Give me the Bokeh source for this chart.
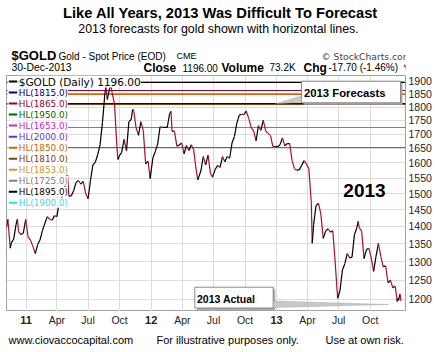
import pandas as pd
from bokeh.plotting import figure
from bokeh.layouts import column
from bokeh.models import (Range1d, FixedTicker, BasicTickFormatter, Label,
                          BoxAnnotation, PolyAnnotation)
from bokeh.embed import file_html
from bokeh.resources import INLINE

# ---------------- data ----------------
dates = [
    "2010-11-05", "2010-11-09", "2010-11-16", "2010-11-19", "2010-11-26", "2010-12-03", "2010-12-07",
    "2010-12-10", "2010-12-17", "2010-12-24", "2010-12-31",
    "2011-01-07", "2011-01-14", "2011-01-21", "2011-01-28", "2011-02-04", "2011-02-11", "2011-02-18",
    "2011-02-25", "2011-03-04", "2011-03-11", "2011-03-18", "2011-03-25", "2011-04-01", "2011-04-08",
    "2011-04-15", "2011-04-22", "2011-04-29", "2011-05-02", "2011-05-06", "2011-05-13", "2011-05-20",
    "2011-05-27", "2011-06-03", "2011-06-10", "2011-06-17", "2011-06-24", "2011-07-01", "2011-07-08",
    "2011-07-15", "2011-07-22", "2011-07-29", "2011-08-05", "2011-08-12", "2011-08-19", "2011-08-22",
    "2011-08-26", "2011-09-02", "2011-09-05", "2011-09-09", "2011-09-16", "2011-09-23", "2011-09-26",
    "2011-09-30", "2011-10-07", "2011-10-14", "2011-10-21", "2011-10-28", "2011-11-04", "2011-11-08",
    "2011-11-11", "2011-11-18", "2011-11-25", "2011-12-02", "2011-12-09", "2011-12-16", "2011-12-23",
    "2011-12-29",
    "2012-01-06", "2012-01-13", "2012-01-20", "2012-01-27", "2012-02-03", "2012-02-10", "2012-02-17",
    "2012-02-24", "2012-02-28", "2012-03-02", "2012-03-09", "2012-03-16", "2012-03-23", "2012-03-30",
    "2012-04-06", "2012-04-13", "2012-04-20", "2012-04-27", "2012-05-04", "2012-05-11", "2012-05-16",
    "2012-05-25", "2012-06-01", "2012-06-08", "2012-06-15", "2012-06-22", "2012-06-28", "2012-07-06",
    "2012-07-13", "2012-07-20", "2012-07-27", "2012-08-03", "2012-08-10", "2012-08-17", "2012-08-24",
    "2012-08-31", "2012-09-07", "2012-09-14", "2012-09-21", "2012-09-28", "2012-10-04", "2012-10-12",
    "2012-10-19", "2012-10-26", "2012-11-02", "2012-11-09", "2012-11-16", "2012-11-23", "2012-11-30",
    "2012-12-07", "2012-12-14", "2012-12-21", "2012-12-28",
    "2013-01-04", "2013-01-11", "2013-01-18", "2013-01-25", "2013-02-01", "2013-02-08", "2013-02-15",
    "2013-02-22", "2013-03-01", "2013-03-08", "2013-03-15", "2013-03-22", "2013-03-29", "2013-04-05",
    "2013-04-12", "2013-04-15", "2013-04-19", "2013-04-26", "2013-05-03", "2013-05-10", "2013-05-17",
    "2013-05-24", "2013-05-31", "2013-06-07", "2013-06-14", "2013-06-21", "2013-06-28", "2013-07-05",
    "2013-07-12", "2013-07-19", "2013-07-26", "2013-08-02", "2013-08-09", "2013-08-16", "2013-08-23",
    "2013-08-27", "2013-08-30", "2013-09-06", "2013-09-13", "2013-09-20", "2013-09-27", "2013-10-04",
    "2013-10-11", "2013-10-18", "2013-10-25", "2013-11-01", "2013-11-08", "2013-11-15", "2013-11-22",
    "2013-11-29", "2013-12-06", "2013-12-13", "2013-12-19", "2013-12-20", "2013-12-23", "2013-12-26",
    "2013-12-27", "2013-12-30",
]
closes = [
    1397, 1421, 1337, 1352, 1363, 1406, 1422,
    1385, 1376, 1380, 1421,
    1369, 1360, 1342, 1322, 1348, 1361, 1388,
    1409, 1429, 1421, 1418, 1432, 1429, 1474,
    1486, 1504, 1556, 1560, 1492, 1493, 1510,
    1536, 1542, 1530, 1539, 1500, 1484, 1542,
    1594, 1602, 1628, 1663, 1743, 1852, 1880,
    1829, 1873, 1890, 1856, 1812, 1658, 1612,
    1624, 1636, 1682, 1642, 1745, 1755, 1791,
    1788, 1724, 1696, 1746, 1713, 1597, 1606,
    1548,
    1617, 1639, 1665, 1727, 1725, 1725, 1725,
    1776, 1784, 1711, 1711, 1658, 1662, 1669,
    1631, 1660, 1643, 1663, 1645, 1580, 1544,
    1573, 1622, 1594, 1627, 1566, 1553, 1579,
    1592, 1585, 1622, 1604, 1622, 1616, 1670,
    1692, 1740, 1770, 1773, 1772, 1785, 1757,
    1724, 1712, 1676, 1731, 1714, 1751, 1712,
    1703, 1696, 1657, 1656,
    1656, 1663, 1687, 1659, 1667, 1667, 1609,
    1581, 1576, 1577, 1592, 1608, 1597, 1581,
    1476, 1351, 1406, 1462, 1470, 1437, 1365,
    1386, 1393, 1383, 1387, 1296, 1203, 1223,
    1277, 1294, 1322, 1310, 1312, 1375, 1396,
    1415, 1396, 1386, 1308, 1333, 1337, 1310,
    1273, 1314, 1351, 1314, 1286, 1288, 1243,
    1250, 1230, 1234, 1195, 1203, 1198, 1212,
    1214, 1196,
]

hl_levels = [1815.0, 1865.0, 1950.0, 1653.0, 2000.0, 1850.0, 1810.0, 1853.0, 1725.0, 1895.0, 1900.0]
hl_colors = ["#000080", "#990033", "#006600", "#cc22cc", "#6633cc", "#cc6600",
             "#804020", "#cc9933", "#808080", "#000000", "#33dddd"]

y_ticks = [1200, 1250, 1300, 1350, 1400, 1450, 1500, 1550, 1600, 1650, 1700, 1750, 1800, 1850, 1900]
x_tick_dates = ["2011-01-01", "2011-04-01", "2011-07-01", "2011-10-01",
                "2012-01-01", "2012-04-01", "2012-07-01", "2012-10-01",
                "2013-01-01", "2013-04-01", "2013-07-01", "2013-10-01"]
x_tick_labels = ["11", "Apr", "Jul", "Oct", "12", "Apr", "Jul", "Oct", "13", "Apr", "Jul", "Oct"]

x_start, x_end = "2010-11-05", "2014-01-12"
y_low, y_high = 1170, 1924

# ---------------- layout ----------------
W = 435
HEAD_H, MAIN_H, FOOT_H = 75, 236, 41
FL, FR = 6, 405          # frame left / right (canvas px)
FT, FB = HEAD_H, HEAD_H + MAIN_H   # frame top / bottom (canvas px)


def ms(d):
    return pd.Timestamp(d).value / 1e6


def blank_fig(h, left=0, right=0, x_range=None):
    f = figure(width=W, height=h, x_range=x_range if x_range is not None else Range1d(0, 1),
               y_range=Range1d(0, 1), x_axis_location=None, y_axis_location=None,
               output_backend="svg", toolbar_location=None,
               min_border_left=left, min_border_right=right, min_border_top=0, min_border_bottom=0)
    f.outline_line_color = None
    f.grid.visible = False
    f.background_fill_color = "white"
    f.border_fill_color = "white"
    return f


def add_label(fig, text, x, y, size, bold=False, color="#000000", align="left",
              font="Liberation Sans", bg=None, pad=0, x_units="screen"):
    kw = dict(x=x, y=y, x_units=x_units, y_units="screen", text=text, text_font=font,
              text_font_size=f"{size}px", text_font_style="bold" if bold else "normal",
              text_color=color, text_align=align, text_baseline="middle")
    if bg is not None:
        kw.update(background_fill_color=bg, padding=pad)
    fig.add_layout(Label(**kw))


xr = Range1d(ms(x_start), ms(x_end))

# ---------- header ----------
head = blank_fig(HEAD_H)


def hl(text, cx, cy, size, **kw):
    add_label(head, text, cx, HEAD_H - cy, size, **kw)


hl("Like All Years, 2013 Was Difficult To Forecast", 214, 12.5, 14.7, bold=True, align="center")
hl("2013 forecasts for gold shown with horizontal lines.", 212, 28, 12.4, align="center")
hl("$GOLD", 5, 54.5, 13, bold=True)
hl("Gold - Spot Price (EOD)", 52, 55.5, 10)
hl("CME", 170, 55.5, 9)
hl("\u00a9 StockCharts.com", 315, 55.5, 9.2, color="#444444", font="DejaVu Sans")
hl("30-Dec-2013", 5, 67, 10.4)
hl("Close", 137, 67, 12, bold=True)
hl("1196.00", 176, 67, 10)
hl("Volume", 215, 67, 12, bold=True)
hl("73.2K", 263, 67, 10)
hl("Chg", 297, 67, 12, bold=True)
hl("-17.70 (-1.46%)", 322, 67, 10)
hl("\u25bc", 397, 67, 8, color="#8b1a3a", font="DejaVu Sans")

# ---------- main chart ----------
p = figure(width=W, height=MAIN_H, x_axis_type="datetime", y_axis_type="log",
           y_axis_location="right", x_range=xr, y_range=Range1d(y_low, y_high),
           output_backend="svg", toolbar_location=None,
           min_border_left=FL, min_border_right=W - FR, min_border_top=0, min_border_bottom=0)
p.outline_line_color = "#a0a0a0"
p.background_fill_color = "white"
p.border_fill_color = "white"

p.yaxis.ticker = FixedTicker(ticks=y_ticks, minor_ticks=[])
p.yaxis.formatter = BasicTickFormatter(use_scientific=False)
p.yaxis.axis_line_color = None
p.yaxis.major_tick_out = 0
p.yaxis.major_tick_in = 0
p.yaxis.minor_tick_out = 0
p.yaxis.minor_tick_in = 0
p.yaxis.major_label_standoff = 3
p.yaxis.major_label_text_font = "Liberation Sans"
p.yaxis.major_label_text_font_size = "10.5px"
p.yaxis.major_label_text_color = "#222222"
p.ygrid.ticker = FixedTicker(ticks=y_ticks, minor_ticks=[])
p.ygrid.grid_line_color = "#dcdcdc"

xt = [ms(d) for d in x_tick_dates]
p.xaxis.visible = False
p.xgrid.ticker = FixedTicker(ticks=xt, minor_ticks=[])
p.xgrid.grid_line_color = "#dcdcdc"

p.hspan(y=hl_levels, line_color=hl_colors, line_width=1)

xd = [ms(d) for d in dates]
seg_col = ["#000000" if closes[i + 1] >= closes[i] else "#a8102e" for i in range(len(closes) - 1)]
p.segment(x0=xd[:-1], y0=closes[:-1], x1=xd[1:], y1=closes[1:], line_color=seg_col, line_width=1.2)


def sx(cx):
    return cx - FL


def sy(cy):
    return FB - cy


def ml(text, cx, cy, size, **kw):
    add_label(p, text, sx(cx), sy(cy), size, **kw)


def box(l, r, t, b, fill, line=None):
    p.add_layout(BoxAnnotation(left=sx(l), right=sx(r), top=sy(t), bottom=sy(b),
                               left_units="screen", right_units="screen",
                               top_units="screen", bottom_units="screen",
                               fill_color=fill, fill_alpha=1.0,
                               line_color=line, line_alpha=1.0 if line else 0.0,
                               line_width=1))


def poly(pts, fill, line):
    p.add_layout(PolyAnnotation(xs=[sx(a) for a, b in pts], ys=[sy(b) for a, b in pts],
                                xs_units="screen", ys_units="screen",
                                fill_color=fill, fill_alpha=1.0, line_color=line, line_width=1))


# legend
legend_texts = ["$GOLD (Daily) 1196.00"] + [f"HL({v:.1f})" for v in hl_levels]
legend_cols = ["#000000"] + hl_colors
for i, (t, c) in enumerate(zip(legend_texts, legend_cols)):
    cy = 81 + 11.03 * i
    box(7, 18, cy - 5, cy + 5, "white")
    box(8.3, 16.7, cy - 1, cy + 1, c)
    ml(t, 18.3, cy, 10.5 if i == 0 else 8.8, color=c, font="DejaVu Sans", bg="white", pad=0)

# callouts
box(303, 402, 82.7, 104.3, "#aaaaaa")
box(301, 400, 80.7, 102.3, "white", "#888888")
poly([(275, 103.3), (301, 95.5), (301, 102)], "#c8c8c8", "#888888")
ml("2013 Forecasts", 303.5, 92, 11.3, bold=True)

box(196.3, 274.7, 288.7, 309.5, "#aaaaaa")
box(194.3, 272.7, 286.7, 307.5, "white", "#888888")
poly([(272.7, 300.5), (388, 304), (272.7, 307)], "#c8c8c8", "#888888")
ml("2013 Actual", 196.5, 298.3, 10.5, bold=True)

ml("2013", 364, 189.5, 19, bold=True, align="center")

# ---------- footer (x tick labels + notes) ----------
foot = blank_fig(FOOT_H, left=FL, right=W - FR, x_range=xr)
FOOT_TOP = FB


def fl_(text, x, cy, size, x_units="screen", **kw):
    add_label(foot, text, x, FOOT_TOP + FOOT_H - cy, size, x_units=x_units, **kw)


for d, t in zip(x_tick_dates, x_tick_labels):
    bold = t.isdigit()
    fl_(t, ms(d), 319.5, 11 if bold else 10.5, x_units="data", bold=bold,
        color="#222222", align="center")

fl_("www.ciovaccocapital.com", 8 - FL, 339.5, 11)
fl_("For illustrative purposes only.", 156 - FL, 339.5, 11)
fl_("Use at own risk.", 325 - FL, 339.5, 11)

layout = column(head, p, foot, spacing=0)
open("out.html", "w").write(file_html(layout, INLINE))
